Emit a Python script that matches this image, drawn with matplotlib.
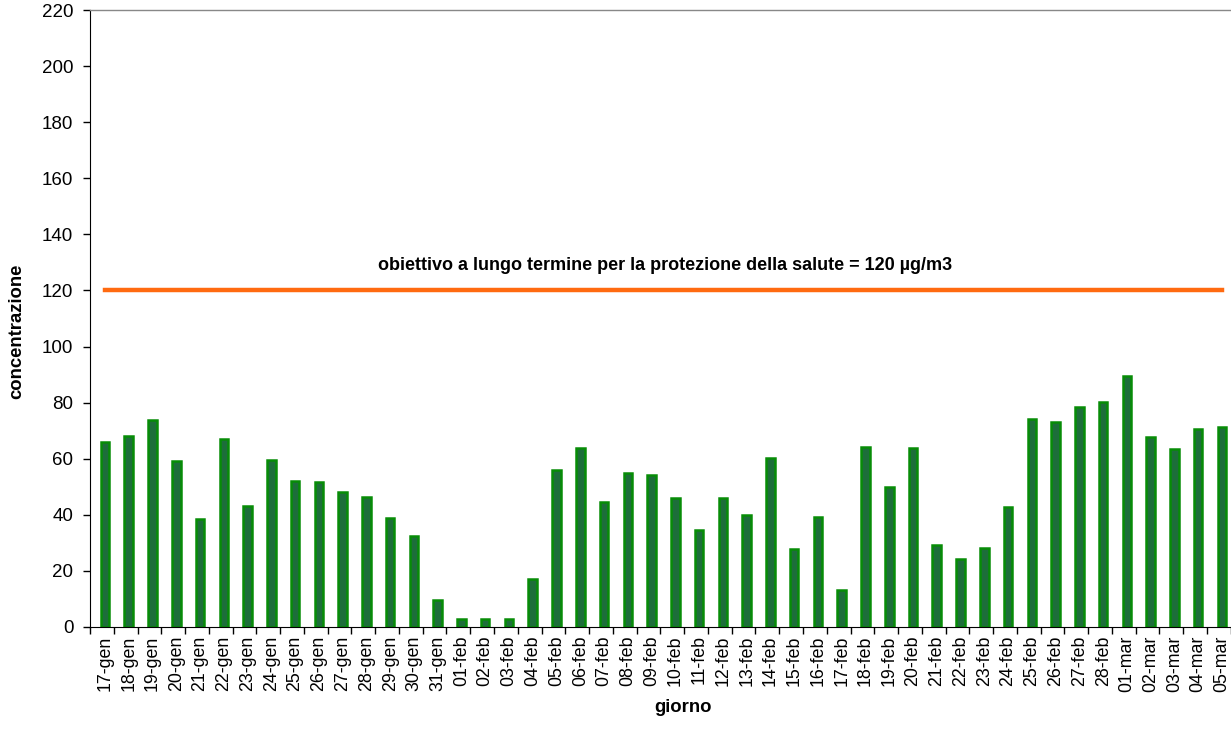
import numpy as np
from matplotlib import pyplot as plt

plt.rcParams['font.family'] = ['Liberation Sans', 'DejaVu Sans']

days = ['17-gen', '18-gen', '19-gen', '20-gen', '21-gen', '22-gen', '23-gen', '24-gen',
        '25-gen', '26-gen', '27-gen', '28-gen', '29-gen', '30-gen', '31-gen',
        '01-feb', '02-feb', '03-feb', '04-feb', '05-feb', '06-feb', '07-feb', '08-feb',
        '09-feb', '10-feb', '11-feb', '12-feb', '13-feb', '14-feb', '15-feb', '16-feb',
        '17-feb', '18-feb', '19-feb', '20-feb', '21-feb', '22-feb', '23-feb', '24-feb',
        '25-feb', '26-feb', '27-feb', '28-feb',
        '01-mar', '02-mar', '03-mar', '04-mar', '05-mar']

conc = [66.0, 68.1, 73.8, 59.3, 38.5, 67.0, 43.2, 59.4, 52.0, 51.7, 48.1, 46.3, 38.9, 32.5,
        9.5, 2.7, 2.7, 2.7, 17.0, 56.0, 63.9, 44.6, 55.0, 54.2, 45.9, 34.6, 46.1, 40.0,
        60.4, 27.7, 39.1, 13.3, 64.2, 49.9, 63.7, 29.3, 24.1, 28.0, 42.7, 74.0, 73.0,
        78.5, 80.2, 89.5, 67.6, 63.3, 70.5, 71.3]

target = 120
target_label = 'obiettivo a lungo termine per la protezione della salute = 120 µg/m3'

x = np.arange(len(days))

fig = plt.figure(figsize=(12.31, 7.49), dpi=100)
ax = fig.add_axes([0.0731, 0.1629, 0.9269, 0.8237])

ax.bar(x, conc, width=0.36, color='#1d6e3a', edgecolor='#078c07', linewidth=1.8, zorder=2)
ax.plot(x, [target] * len(x), color='#ff6a10', linewidth=3.2, zorder=3)
ax.text(23.56, 129, target_label, ha='center', va='center', fontsize=13, fontweight='bold')

ax.set_xlim(-0.63, 47.38)
ax.set_ylim(0, 220)
ax.set_yticks(np.arange(0, 221, 20))
ax.tick_params(axis='y', labelsize=13.5, direction='out', length=5, width=1, pad=7)

ax.set_xticks(x)
ax.set_xticklabels(days, rotation=90, fontsize=12.8)
ax.tick_params(axis='x', which='major', length=0, pad=6)
ax.set_xticks(np.arange(len(days) + 1) - 0.63, minor=True)
ax.tick_params(axis='x', which='minor', direction='out', length=5, width=1)

ax.spines['right'].set_visible(False)
ax.spines['top'].set_color('#888888')
ax.spines['top'].set_linewidth(1)

fig.text(0.555, 0.055, 'giorno', ha='center', va='center', fontsize=13.3, fontweight='bold')
fig.text(0.014, 0.558, 'concentrazione', ha='center', va='center', rotation=90,
         fontsize=13.3, fontweight='bold')

fig.savefig('out.png', dpi=100)
